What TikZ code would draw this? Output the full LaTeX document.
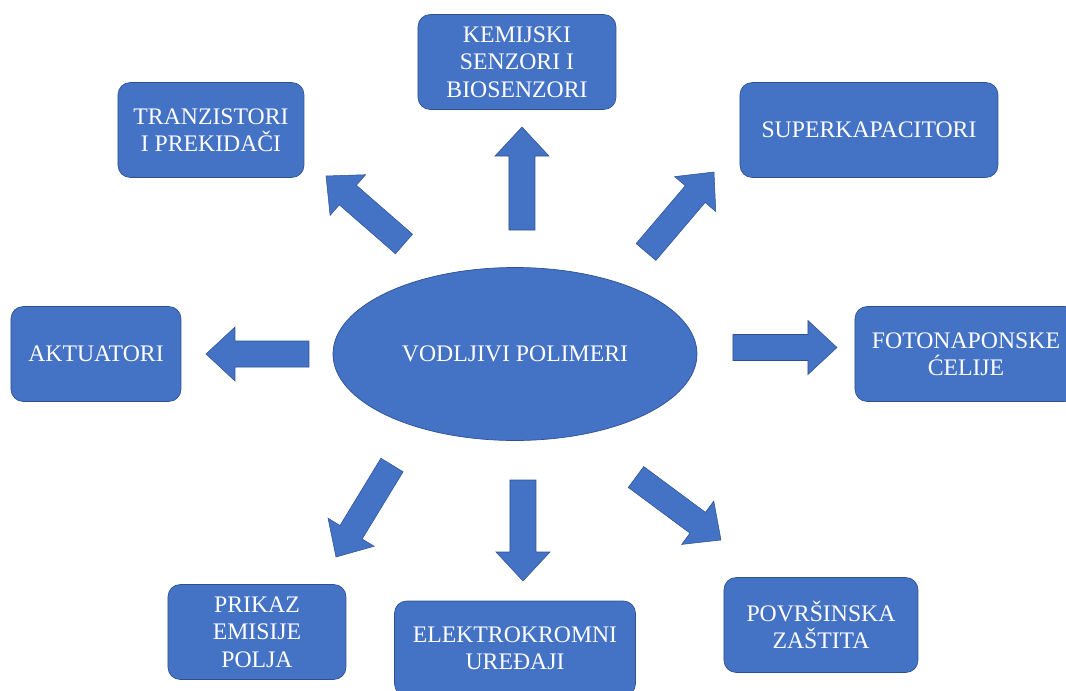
\documentclass[tikz,border=0pt]{standalone}
\usepackage{fontspec}
\setmainfont{Liberation Serif}
\usepackage{tikz}
\usetikzlibrary{shapes,calc,positioning}
\definecolor{boxblue}{RGB}{68,114,196}
\definecolor{boxedge}{RGB}{47,82,143}
\tikzstyle{topic}=[rectangle,rounded corners=7pt,draw=boxedge,fill=boxblue,text=white,align=center,minimum height=1.9cm,font=\fontsize{13.5}{15.6}\selectfont]
\tikzstyle{core}=[ellipse,draw=boxedge,fill=boxblue,text=white,minimum width=7.28cm,minimum height=3.46cm,font=\fontsize{13.5}{15.6}\selectfont]
\tikzstyle{blk}=[draw=boxedge,fill=boxblue,line width=0.3pt,line join=miter]
% block arrow from tail (#1) to tip (#2)
\newcommand{\bigarrow}[2]{%
  \coordinate (hb) at ($(#2)!0.58cm!(#1)$);
  \draw[blk] ($(#1)!0.26cm!90:(#2)$) -- ($(hb)!0.26cm!90:(#2)$)
    -- ($(hb)!0.54cm!90:(#2)$) -- (#2)
    -- ($(hb)!0.54cm!-90:(#2)$) -- ($(hb)!0.26cm!-90:(#2)$)
    -- ($(#1)!0.26cm!-90:(#2)$) -- cycle;}

\begin{document}
\begin{tikzpicture}
          \useasboundingbox (-10.30,-6.74) rectangle (11.02,7.08);

          \node[core]  (pol) at (0,0) {VODLJIVI POLIMERI};

          \node[topic,minimum width=3.96cm] (kem) [above of=pol,node distance=5.84cm,xshift=0.04cm] {KEMIJSKI\\SENZORI I\\BIOSENZORI};
          \node[topic,minimum width=3.72cm] (tran) [above of=pol,node distance=4.48cm,xshift=-6.08cm] {TRANZISTORI\\I PREKIDAČI};
          \node[topic,minimum width=5.16cm] (sup) [above of=pol,node distance=4.48cm,xshift=7.08cm] {SUPERKAPACITORI};
          \node[topic,minimum width=3.4cm]  (akt) [left of=pol,node distance=8.38cm] {AKTUATORI};
          \node[topic,minimum width=4.44cm] (foto) [right of=pol,node distance=9.02cm] {FOTONAPONSKE\\ĆELIJE};
          \node[topic,minimum width=3.56cm] (prik) [below of=pol,node distance=5.56cm,xshift=-5.16cm] {PRIKAZ\\EMISIJE\\POLJA};
          \node[topic,minimum width=4.82cm] (elek) [below of=pol,node distance=5.89cm] {ELEKTROKROMNI\\UREĐAJI};
          \node[topic,minimum width=3.88cm] (pov) [below of=pol,node distance=5.42cm,xshift=6.12cm] {POVRŠINSKA\\ZAŠTITA};

          % arrow ends
          \coordinate (kem-t) at (0.14,2.48);   \coordinate (kem-h) at (0.14,4.54);
          \coordinate (tran-t) at (-2.22,2.2);  \coordinate (tran-h) at (-3.78,3.56);
          \coordinate (sup-t) at (2.62,2.04);   \coordinate (sup-h) at (3.98,3.64);
          \coordinate (akt-t) at (-4.12,0);     \coordinate (akt-h) at (-6.18,0);
          \coordinate (foto-t) at (4.36,0.13);  \coordinate (foto-h) at (6.44,0.13);
          \coordinate (prik-t) at (-2.46,-2.22); \coordinate (prik-h) at (-3.58,-4.06);
          \coordinate (elek-t) at (0.16,-2.52); \coordinate (elek-h) at (0.16,-4.54);
          \coordinate (pov-t) at (2.42,-2.46);  \coordinate (pov-h) at (4.12,-3.72);

          \bigarrow{kem-t}{kem-h}
          \bigarrow{tran-t}{tran-h}
          \bigarrow{sup-t}{sup-h}
          \bigarrow{akt-t}{akt-h}
          \bigarrow{foto-t}{foto-h}
          \bigarrow{prik-t}{prik-h}
          \bigarrow{elek-t}{elek-h}
          \bigarrow{pov-t}{pov-h}
        \end{tikzpicture}
\end{document}
